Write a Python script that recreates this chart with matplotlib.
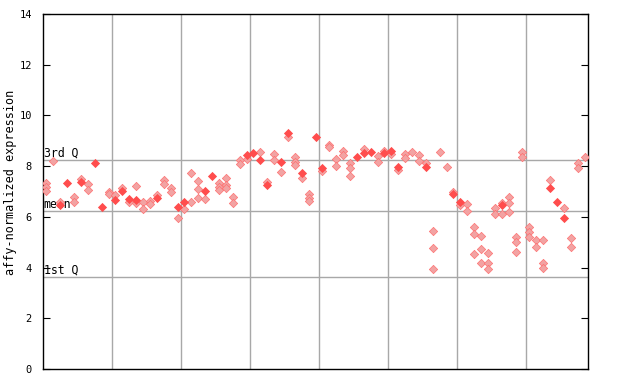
import matplotlib
matplotlib.use('Agg')
import matplotlib.pyplot as plt

# column index -> value, solid markers
filled_idx = [2, 3, 5, 7, 8, 10, 11, 12, 13, 16, 19, 20, 23, 24, 29, 30, 31, 32, 34, 35,
              37, 39, 40, 45, 46, 47, 49, 50, 51, 55, 59, 60, 66, 73, 74, 75]
filled_val = [6.45, 7.33, 7.37, 8.12, 6.39, 6.66, 7.03, 6.7, 6.66, 6.74, 6.39, 6.58, 7.02, 7.6,
              8.44, 8.5, 8.24, 7.26, 8.16, 9.3, 7.73, 9.15, 7.93, 8.36, 8.5, 8.56, 8.5, 8.6,
              7.97, 7.97, 6.9, 6.58, 6.47, 7.14, 6.58, 5.95]

# column index -> value, checkered (lighter) markers
hatched_idx = [0, 0, 0, 1, 2, 4, 4, 5, 6, 6, 9, 9, 10, 11, 12, 13, 13, 14, 14, 15, 15, 16,
               17, 17, 18, 18, 19, 20, 21, 21, 22, 22, 22, 23, 25, 25, 25, 26, 26, 26, 27, 27,
               28, 28, 29, 31, 32, 33, 33, 34, 35, 36, 36, 36, 37, 38, 38, 38, 40, 41, 41,
               42, 42, 43, 43, 44, 44, 44, 46, 48, 48, 49, 50, 51, 52, 52, 53, 54, 54, 55,
               56, 56, 56, 57, 58, 59, 60, 61, 61, 62, 62, 62, 63, 63, 63, 64, 64, 64, 65, 65,
               66, 66, 67, 67, 67, 68, 68, 68, 69, 69, 70, 70, 70, 71, 71, 72, 72, 72, 73, 75,
               76, 76, 77, 77, 78]
hatched_val = [7.33, 7.18, 7.02, 8.2, 6.6, 6.78, 6.6, 7.5, 7.28, 7.05, 7.0, 6.9, 6.86, 7.15,
               6.58, 7.2, 6.55, 6.58, 6.3, 6.62, 6.52, 6.86, 7.45, 7.28, 7.14, 7.0, 5.95, 6.3,
               7.73, 6.58, 7.4, 7.1, 6.74, 6.7, 7.33, 7.18, 7.05, 7.53, 7.26, 7.14, 6.8, 6.55,
               8.24, 8.1, 8.3, 8.56, 7.37, 8.48, 8.24, 7.77, 9.15, 8.36, 8.16, 8.04, 7.55, 6.9,
               6.74, 6.62, 7.8, 8.83, 8.75, 8.28, 8.0, 8.6, 8.44, 8.12, 7.93, 7.6, 8.68, 8.4,
               8.16, 8.6, 8.48, 7.85, 8.48, 8.32, 8.56, 8.44, 8.2, 8.12, 5.44, 4.77, 3.94, 8.56,
               7.97, 6.98, 6.47, 6.5, 6.23, 5.6, 5.32, 4.53, 5.24, 4.73, 4.18, 4.57, 4.18, 3.94,
               6.35, 6.11, 6.55, 6.11, 6.78, 6.55, 6.19, 5.2, 5.0, 4.61, 8.56, 8.36, 5.6, 5.4,
               5.2, 5.09, 4.81, 5.09, 4.18, 3.98, 7.45, 6.35, 5.17, 4.81, 8.12, 7.93, 8.36]

n_cols = 79
stat_names = ['3rd Q', 'mean', '1st Q']
stat_vals = [8.23, 6.23, 3.63]
yticks = [0, 2, 4, 6, 8, 10, 12, 14]

red = '#ff4d4d'
light = '#f2a3a3'
grid = '#a8a8a8'
mono = 'DejaVu Sans Mono'

fig = plt.figure(figsize=(6.4, 3.84), dpi=100)
ax = fig.add_axes([43 / 640, 1 - 369 / 384, 545 / 640, 355 / 384])

for v in stat_vals:
    ax.axhline(v, color=grid, lw=1, zorder=1)
for k in range(10, n_cols, 10):
    ax.axvline(k, color=grid, lw=1, zorder=1)
for name, v in zip(stat_names, stat_vals):
    ax.text(0.1, v + 0.02, name, fontsize=8.3, family=mono, va='bottom', ha='left', zorder=2)

ax.scatter([i + 0.5 for i in hatched_idx], hatched_val, marker='D', s=18,
           facecolor=light, edgecolor='#ff7070', linewidth=0.5, zorder=3)
ax.scatter([i + 0.5 for i in filled_idx], filled_val, marker='D', s=22,
           color=red, linewidth=0, zorder=4)

ax.set_xlim(0, n_cols)
ax.set_ylim(0, 14)
ax.set_xticks([])
ax.set_yticks(yticks)
ax.set_yticklabels([str(t) for t in yticks], family=mono, fontsize=7.5)
ax.tick_params(axis='y', direction='in', length=5, right=True, pad=8)
ax.set_ylabel('affy-normalized expression', family=mono, fontsize=8.5)
ax.yaxis.set_label_coords(-0.047, 0.527)
for s in ax.spines.values():
    s.set_color('black')
    s.set_linewidth(1)

fig.savefig('out.png', dpi=100)
